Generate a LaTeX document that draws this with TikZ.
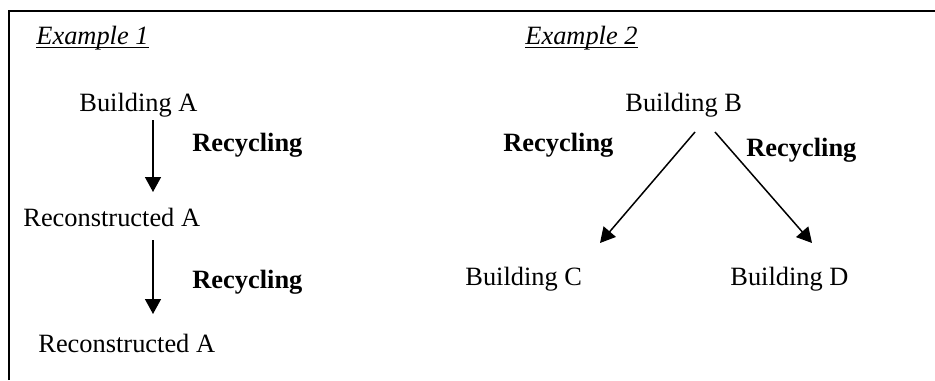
\documentclass[tikz,border=0pt]{standalone}
\usepackage{fontspec}
\setmainfont{Liberation Serif}
\usetikzlibrary{arrows.meta}
\begin{document}
\begin{tikzpicture}[x=0.5pt,y=-0.5pt,
  txt/.style={anchor=base west,inner sep=0pt,font=\fontsize{13.2pt}{15pt}\selectfont},
  lbl/.style={txt,font=\fontsize{13.2pt}{15pt}\selectfont\bfseries},
  arr/.style={line width=0.75pt,-{Triangle[width=8pt,length=7.5pt]}},
  uline/.style={line width=0.6pt},
  frame/.style={line width=1pt}]
\useasboundingbox (0,0) rectangle (935,380);
\draw[frame] (8.5,380) -- (8.5,11) -- (935,11);
% Example 1
\node[txt] (ex1) at (36,44.5) {\textit{Example 1}};
\draw[uline] ([yshift=-1.3pt]ex1.base west) -- ([yshift=-1.3pt]ex1.base east);
\node[txt] (bA) at (79,111) {Building A};
\node[lbl] (r1) at (192,151) {Recycling};
\node[txt] (rA1) at (23,226) {Reconstructed A};
\node[lbl] (r2) at (192,288) {Recycling};
\node[txt] (rA2) at (38,352) {Reconstructed A};
\coordinate (a1s) at (153,120);
\coordinate (a1e) at (153,192);
\coordinate (a2s) at (153,240);
\coordinate (a2e) at (153,314);
\draw[arr] (a1s) -- (a1e);
\draw[arr] (a2s) -- (a2e);
% Example 2
\node[txt] (ex2) at (525,44.5) {\textit{Example 2}};
\draw[uline] ([yshift=-1.3pt]ex2.base west) -- ([yshift=-1.3pt]ex2.base east);
\node[txt] (bB) at (625,111) {Building B};
\node[lbl] (r3) at (503,151) {Recycling};
\node[lbl] (r4) at (746,156) {Recycling};
\node[txt] (bC) at (465,285) {Building C};
\node[txt] (bD) at (730,285) {Building D};
\coordinate (b1s) at (695,132);
\coordinate (b1e) at (600,243);
\coordinate (b2s) at (715,132);
\coordinate (b2e) at (812,243);
\draw[arr] (b1s) -- (b1e);
\draw[arr] (b2s) -- (b2e);
\end{tikzpicture}
\end{document}
